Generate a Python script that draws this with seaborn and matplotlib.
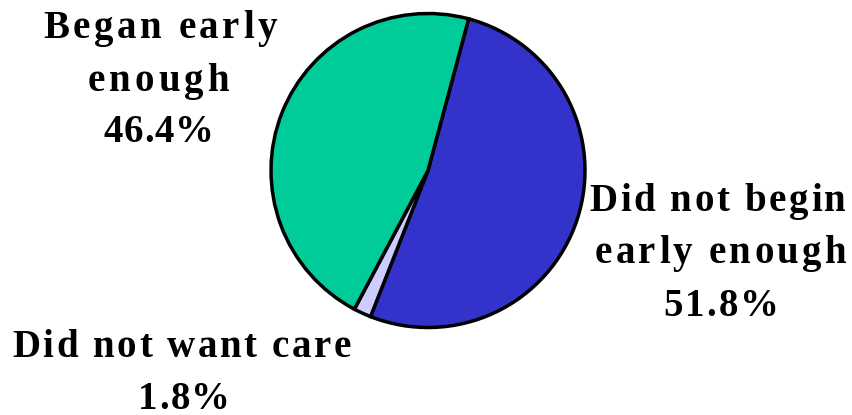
import matplotlib
matplotlib.use("Agg")
import matplotlib.pyplot as plt
from matplotlib.font_manager import FontProperties
import seaborn as sns

categories = ["Did not begin early enough", "Did not want care", "Began early enough"]
values = [51.8, 1.8, 46.4]
colors = ["#3333CC", "#CCCCFF", "#00CC99"]
label_lines = [["Did not begin", "early enough", "51.8%"],
               ["Did not want care", "1.8%"],
               ["Began early", "enough", "46.4%"]]

sns.set_theme(style="white")
plt.rcParams['font.family'] = ['Liberation Serif', 'DejaVu Serif']

W, H = 852, 415
fig = plt.figure(figsize=(W / 100, H / 100), dpi=100)
ax = fig.add_axes([0, 0, 1, 1])
cx, cy, r = 428, H - 170.5, 157
ax.pie(values, colors=colors, startangle=75, counterclock=False,
       center=(cx, cy), radius=r,
       wedgeprops=dict(edgecolor="black", linewidth=2.5))
ax.set_xlim(0, W)
ax.set_ylim(0, H)
ax.set_aspect("equal")
ax.axis("off")

prop = FontProperties(family="Liberation Serif", weight="bold", size=28)
renderer = fig.canvas.get_renderer()


def tw(s):
    # advance width in pixels of string s (robust to trailing spaces)
    w1, _, _ = renderer.get_text_width_height_descent(s + "|", prop, ismath=False)
    w2, _, _ = renderer.get_text_width_height_descent("|", prop, ismath=False)
    return w1 - w2


def spaced_text(line, xl, xr, ybase):
    n = len(line)
    sp = (xr - xl - tw(line)) / max(n - 1, 1)
    for i, ch in enumerate(line):
        if ch == " ":
            continue
        x = xl + tw(line[:i]) + sp * i
        ax.text(x, H - ybase, ch, ha="left", va="baseline",
                fontproperties=prop, color="black")


# label layout (pixels from top-left): (left x, right x, baseline y) per line
layout = [[(589, 846, 211), (595, 846, 263), (663, 779, 316)],
          [(12, 350, 357), (138, 230, 409)],
          [(43, 277, 38), (88, 229, 91), (103, 214, 142)]]
for lines, pos in zip(label_lines, layout):
    for t, (xl, xr, yb) in zip(lines, pos):
        spaced_text(t, xl, xr, yb)

fig.savefig("out.png", dpi=100)
